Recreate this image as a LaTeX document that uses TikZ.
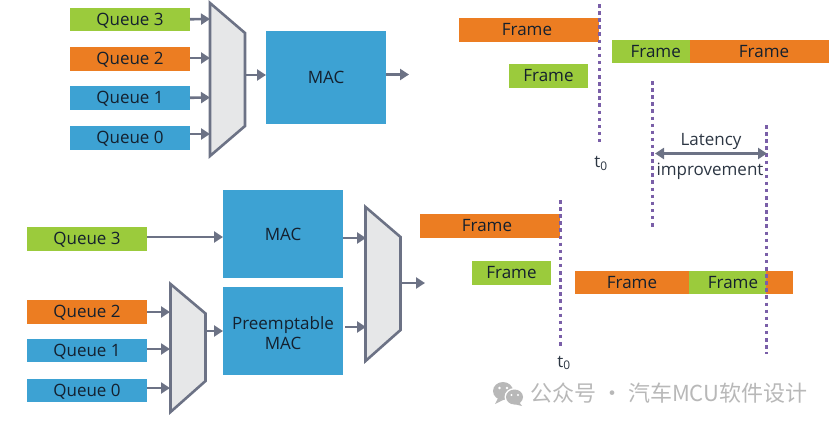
\documentclass[tikz,border=0pt]{standalone}
\usepackage{fontspec}
\setmainfont{Open Sans}
\newfontfamily\cjkfont{Noto Sans CJK SC}
\usetikzlibrary{arrows.meta}
\definecolor{qgreen}{HTML}{9BCB3C}
\definecolor{qorange}{HTML}{EC7D22}
\definecolor{qblue}{HTML}{3DA2D3}
\definecolor{linegray}{HTML}{6C7285}
\definecolor{muxfill}{HTML}{E6E7E8}
\definecolor{dotpurple}{HTML}{7A5FA8}
\definecolor{inkdark}{HTML}{14202E}
\definecolor{wmgray}{HTML}{B8B8B8}
\tikzset{
  x=1pt,y=-1pt,
  box/.style={draw=none,inner sep=0pt,outer sep=0pt,text=inkdark,font=\fontsize{17}{21}\selectfont,align=center,anchor=north west},
  oneline/.style={text height=14pt,text depth=1.7pt},
  queue/.style={box,oneline,minimum width=120pt,minimum height=23.5pt},
  macbox/.style={box,fill=qblue,minimum width=120pt},
  frameg/.style={box,oneline,fill=qgreen,minimum height=23.5pt},
  frameo/.style={box,oneline,fill=qorange,minimum height=23.5pt},
  conn/.style={draw=linegray,line width=2.6pt,-{Triangle[length=9pt,width=11pt]}},
  mux/.style={draw=linegray,fill=muxfill,line width=2.6pt,line join=miter},
  dots/.style={draw=dotpurple,line width=3pt,dash pattern=on 3.5pt off 3.6pt},
  lab/.style={inner sep=0pt,text=inkdark!90,font=\fontsize{17}{21}\selectfont},
}
\begin{document}
\begin{tikzpicture}
\useasboundingbox (0,0) rectangle (834,426);
% top-left
\node[queue,fill=qgreen] (q3) at (70,7.5) {Queue 3};
\node[queue,fill=qorange] (q2) at (70,47) {Queue 2};
\node[queue,fill=qblue] (q1) at (70,86) {Queue 1};
\node[queue,fill=qblue] (q0) at (70,126) {Queue 0};
\draw[mux] (210,3) -- (245,33) -- (245,126) -- (210,156) -- cycle;
\node[macbox,minimum height=93pt] (mac) at (266,31) {MAC};
\coordinate (a3) at (210,19);
\coordinate (a2) at (210,58);
\coordinate (a1) at (210,97.5);
\coordinate (a0) at (210,134);
\coordinate (am) at (245,75);
\coordinate (aout) at (409,74.5);
\draw[conn] (q3.east) -- (a3);
\draw[conn] (q2.east |- a2) -- (a2);
\draw[conn] (q1.east) -- (a1);
\draw[conn] (q0.east |- a0) -- (a0);
\draw[conn] (am) -- (mac.west |- am);
\draw[conn] (mac.east |- aout) -- (aout);
% bottom-left
\node[queue,fill=qgreen] (bq3) at (27,227) {Queue 3};
\node[queue,fill=qorange] (bq2) at (27,300) {Queue 2};
\node[queue,fill=qblue] (bq1) at (27,338.5) {Queue 1};
\node[queue,fill=qblue] (bq0) at (27,378.5) {Queue 0};
\node[macbox,minimum height=88pt] (bmac) at (223,190) {MAC};
\node[macbox,minimum height=87.5pt] (pmac) at (223,287) {};
\node[lab,align=center,text=inkdark] (pmact) at (283,333.5) {Preemptable\\[-1pt]MAC};
\draw[mux] (170.5,284) -- (205.5,313.5) -- (205.5,381) -- (170.5,412) -- cycle;
\draw[mux] (365.5,207) -- (400.5,237) -- (400.5,330) -- (365.5,361) -- cycle;
\coordinate (b3) at (223,237);
\coordinate (b2) at (170,312);
\coordinate (b1) at (170,349);
\coordinate (b0) at (170,388);
\coordinate (bm) at (205.5,331);
\coordinate (c1) at (366,238);
\coordinate (c2) at (366,327);
\coordinate (cs) at (345,327);
\coordinate (cm) at (400.5,283);
\coordinate (cout) at (425,283);
\draw[conn] (bq3.east |- b3) -- (b3);
\draw[conn] (bq2.east |- b2) -- (b2);
\draw[conn] (bq1.east |- b1) -- (b1);
\draw[conn] (bq0.east |- b0) -- (b0);
\draw[conn] (bm) -- (pmac.west |- bm);
\draw[conn] (bmac.east |- c1) -- (c1);
\draw[conn] (cs) -- (c2);
\draw[conn] (cm) -- (cout);
% top-right frames
\node[frameo,minimum width=140pt] (f1) at (459,18) {Frame\hspace{4pt}};
\node[frameg,minimum width=79pt] (f2) at (509,64) {Frame};
\node[frameg,minimum width=78.5pt] (f3) at (611.5,39.5) {\hspace{10pt}Frame};
\node[frameo,minimum width=139pt] (f4) at (690,39.5) {\hspace{9pt}Frame};
% bottom-right frames
\node[frameo,minimum width=140pt] (f5) at (420,214) {Frame\hspace{6pt}};
\node[frameg,minimum width=79pt] (f6) at (472,261) {Frame};
\node[frameo,minimum width=114pt] (f7) at (575,270.5) {Frame};
\node[frameg,minimum width=77pt] (f8) at (689,270.5) {\hspace{11pt}Frame};
\node[frameo,minimum width=27pt] (f9) at (766,270.5) {};
% dotted time lines
\coordinate (d1a) at (599,4); \coordinate (d1b) at (599,143);
\coordinate (d2a) at (652,81); \coordinate (d2b) at (652,227);
\coordinate (d3a) at (766,125); \coordinate (d3b) at (766,354);
\coordinate (d4a) at (560,200); \coordinate (d4b) at (560,346);
\draw[dots] (d1a) -- (d1b);
\draw[dots] (d2a) -- (d2b);
\draw[dots] (d3a) -- (d3b);
\draw[dots] (d4a) -- (d4b);
\node[lab] (t1) at (601,163.5) {t\textsubscript{0}};
\node[lab] (t2) at (564,363) {t\textsubscript{0}};
% latency
\coordinate (la) at (655,153.5);
\coordinate (lb) at (767,153.5);
\draw[draw=linegray,line width=2.6pt,{Triangle[length=9pt,width=11pt]}-{Triangle[length=9pt,width=11pt]}] (la) -- (lb);
\node[lab] (lat) at (711,141.5) {Latency};
\node[lab] (imp) at (710,171) {improvement};
% watermark
\fill[wmgray] (503,391) ellipse (10pt and 9pt);
\fill[wmgray] (498,398) -- (495,404) -- (503,400) -- cycle;
\fill[white] (514.5,397) ellipse (10pt and 9pt);
\fill[wmgray] (514.5,397) ellipse (8.5pt and 7.5pt);
\fill[wmgray] (519,402) -- (522,406) -- (514,404) -- cycle;
\fill[white] (499.5,388) circle (1.4pt) (507,388) circle (1.4pt) (511.5,395) circle (1.2pt) (518,395) circle (1.2pt);
\node[inner sep=0pt,anchor=west,text=wmgray,font=\cjkfont\fontsize{22}{26}\selectfont] (wm) at (530,393.5) {公众号 · 汽车MCU软件设计};
\end{tikzpicture}
\end{document}
